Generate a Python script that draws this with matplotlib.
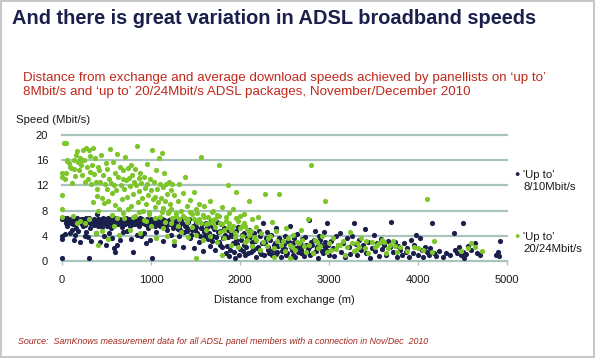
import matplotlib
matplotlib.use("Agg")
import matplotlib.pyplot as plt
import numpy as np

plt.rcParams['font.family'] = ['Liberation Sans', 'DejaVu Sans']

# ---- data: (distance m, speed Mbit/s) ----
dark_points = [
    (0,6.6),(0,3.5),(0,3.9),(0,0.5),(20,6.8),(40,6.5),(60,6.9),(80,6.2),(100,6.7),(110,5.0),(130,6.4),(150,4.2),
    (170,6.8),(190,6.3),(200,3.0),(60,5.5),(90,4.5),(120,5.8),(160,5.3),(180,4.8),(30,4.3),(140,3.4),
    (210,6.6),(230,5.9),(250,6.2),(260,4.0),(280,6.5),(300,0.5),(300,6.9),(320,5.2),(330,3.2),(350,6.0),
    (370,6.4),(380,4.5),(390,7.5),(240,5.5),(270,4.6),(310,6.0),(360,5.7),(290,3.8),
    (400,6.6),(410,5.6),(420,6.2),(430,3.0),(440,6.4),(450,5.4),(460,6.8),(470,4.0),(480,6.5),(490,2.6),
    (500,6.1),(510,5.5),(520,6.9),(530,4.5),(540,6.0),(550,5.2),(560,3.7),(570,6.6),(580,2.1),(590,6.2),
    (600,1.4),(610,6.4),(620,2.5),(630,5.9),(640,6.7),(650,3.3),(660,6.0),(670,5.4),(680,4.6),(690,6.6),
    (700,6.3),(710,5.8),(720,6.9),(730,4.8),(740,6.1),(750,6.5),(760,5.6),(770,6.0),(780,3.5),(790,6.4),
    (800,1.5),(810,6.2),(820,5.9),(830,6.7),(840,4.1),(850,6.3),(860,6.0),(870,5.5),(880,6.8),(890,3.9),
    (900,6.2),(910,6.5),(920,4.4),(930,5.8),(940,2.8),(950,6.6),(960,6.0),(970,5.3),(980,6.4),(990,3.4),
    (1000,6.1),(1010,0.5),(1020,5.8),(1040,6.4),(1060,4.6),(1080,6.2),(1100,5.5),(1120,6.7),(1140,3.2),
    (1160,6.0),(1180,5.0),(1200,6.5),(1220,4.2),(1240,5.8),(1260,2.6),(1280,6.3),(1300,5.1),(1320,4.0),
    (1340,6.6),(1360,2.2),(1380,5.5),(1400,4.8),(1420,6.2),(1440,3.6),(1460,5.0),(1480,2.0),(1500,6.0),
    (1520,4.4),(1540,3.0),(1560,5.3),(1580,1.6),(1600,4.6),(1620,6.1),(1640,3.5),(1660,2.4),(1680,5.6),
    (1700,4.0),(1720,1.7),(1740,6.2),(1760,3.0),(1780,4.8),(1800,2.2),(1820,5.2),(1840,1.2),(1860,3.8),
    (1880,0.8),(1900,4.5),(1920,2.8),(1940,0.5),(1960,3.4),(1980,5.4),(2000,1.9),(2020,4.2),(2040,2.6),
    (2060,0.9),(2080,3.6),(2100,5.0),(2120,1.4),(2140,3.0),(2160,4.4),(2180,0.6),(2200,2.3),(2220,3.9),
    (2240,1.1),(2260,6.0),(2280,2.8),(2300,4.6),(2320,1.7),(2340,3.3),(2360,0.9),(2380,2.5),(2400,5.2),
    (2420,1.5),(2440,3.7),(2460,0.6),(2480,2.1),(2500,4.0),(2520,1.0),(2540,3.1),(2560,5.6),(2580,1.8),
    (2600,2.9),(2620,0.7),(2640,4.3),(2660,2.4),(2680,1.3),(2700,3.5),(2720,0.8),(2740,2.6),(2760,1.9),
    (2780,6.5),(2800,3.0),(2820,1.2),(2840,4.8),(2860,2.0),(2880,0.5),(2900,3.4),(2920,1.6),(2940,4.6),
    (2960,2.3),(2980,6.1),(3000,1.0),(3020,3.2),(3040,2.0),(3060,0.8),(3080,3.9),(3100,2.6),(3120,4.5),
    (3140,1.4),(3160,2.9),(3180,0.6),(3200,3.6),(3220,2.2),(3240,1.1),(3260,4.0),(3280,6.1),(3300,2.7),
    (3320,0.9),(3340,3.3),(3360,1.8),(3380,2.5),(3400,5.1),(3420,1.2),(3440,3.0),(3460,0.5),(3480,2.1),
    (3500,4.2),(3520,1.6),(3540,2.8),(3560,0.8),(3580,3.5),(3600,1.9),(3620,2.6),(3640,1.0),(3660,3.1),
    (3680,2.2),(3700,6.2),(3720,1.4),(3740,3.0),(3760,0.7),(3780,2.4),(3800,1.7),(3820,0.9),(3840,2.9),
    (3860,1.5),(3880,2.0),(3900,0.6),(3920,3.3),(3940,1.2),(3960,2.6),(3980,4.1),(4000,1.0),(4020,3.6),
    (4040,1.8),(4060,0.7),(4080,2.3),(4100,1.4),(4120,0.9),(4140,2.1),(4160,6.1),(4180,1.2),(4200,0.8),
    (4240,1.6),(4280,0.6),(4320,1.3),(4360,1.0),(4400,4.4),(4420,1.7),(4440,1.2),(4460,2.2),(4480,0.9),
    (4500,6.0),(4510,1.5),(4520,0.5),(4540,1.1),(4560,2.4),(4600,1.8),(4640,2.9),(4660,1.3),(4700,1.0),
    (4880,1.0),(4900,1.4),(4920,3.1),(4910,0.8),
    (50,6.0),(75,6.4),(105,6.1),(125,6.8),(145,5.9),(165,6.5),(215,6.1),(235,6.7),(255,5.7),(275,6.9),
    (295,6.3),(335,6.1),(355,6.6),(375,5.9),(395,6.3),(415,6.7),(435,5.9),(455,6.2),(475,6.0),(495,6.6),
    (515,6.3),(535,6.5),(555,6.1),(575,5.8),(595,6.8),(615,6.0),(635,6.3),(655,6.5),(675,6.2),(695,5.9),
    (715,6.4),(735,6.0),(755,6.7),(775,6.3),(795,5.9),(815,6.6),(835,6.1),(855,6.5),(875,6.0),(895,6.7),
    (915,6.0),(935,6.3),(955,5.7),(975,6.2),(995,6.6),(1030,6.0),(1050,5.6),(1070,6.6),(1090,5.9),(1110,6.3),
    (1130,5.7),(1150,6.5),(1170,5.4),(1190,6.1),(1210,5.8),(1230,6.6),(1250,5.2),(1270,5.9),(1290,6.4),
    (1310,5.6),(1330,5.0),(1350,6.0),(1370,4.6),(1390,5.8),(1410,5.2),(1430,6.7),(1450,4.2),(1470,5.6),
    (1490,4.9),(1510,5.4),(1530,6.4),(1550,4.0),(1570,5.8),(1590,4.9),(1610,3.9),(1630,5.4),(1650,4.4),
    (1670,6.3),(1690,3.2),(1710,5.1),(1730,3.8),(1750,4.6),(1770,2.6),(1790,5.8),(1810,3.6),(1830,4.2),
    (1850,2.4),(1870,5.0),(1890,1.8),(1910,3.9),(1930,1.4),(1950,4.8),(1970,2.7),(1990,1.0),(2010,3.3),
    (2030,1.6),(2050,4.4),(2070,2.2),(2090,1.2),(2110,3.8),(2130,2.4),(2150,1.8),(2170,3.2),(2190,2.0),
    (2210,4.8),(2230,1.5),(2250,2.9),(2270,1.0),(2290,3.6),(2310,2.2),(2330,1.3),(2350,4.2),(2370,1.7),
    (2390,2.9),(2410,1.1),(2430,2.4),(2450,3.4),(2470,1.6),(2490,2.7),(2510,1.9),(2530,1.3),(2550,3.0),
    (2570,2.3),(2590,1.0),(2610,3.6),(2630,2.0),(2650,1.4),(2670,2.8),(2690,1.7),(2710,2.4),(2730,3.8),
    (2750,1.5),(2770,2.2),(2790,1.0),(2810,2.6),(2830,3.3),(2850,1.6),(2870,2.3),(2890,3.9),(2910,2.6),
    (2930,1.3),(2950,3.0),(2970,1.7),(2990,2.5),
]

green_points = [
    (0,10.5),(0,8.3),(0,7.0),(0,14.0),(0,13.4),(20,18.8),(40,18.8),(30,13.0),(50,14.0),(60,15.8),(80,15.6),
    (90,15.0),(100,14.8),(110,12.4),(130,16.0),(140,14.6),(150,13.5),(160,16.8),(170,17.4),(180,15.7),
    (190,14.4),(200,16.3),(200,6.3),(120,7.2),(170,6.0),(60,16.0),
    (210,15.2),(220,16.1),(230,13.6),(240,17.6),(250,16.0),(260,12.6),(270,18.0),(280,15.0),(290,13.0),
    (300,17.6),(310,14.2),(320,16.7),(330,12.2),(340,15.3),(350,18.0),(360,13.8),(370,16.4),(380,12.6),
    (390,10.3),(400,15.0),(400,8.0),(300,6.6),(380,4.5),(410,2.5),(350,9.3),(260,6.0),(390,11.5),
    (420,14.4),(430,12.6),(440,16.9),(450,10.0),(460,13.6),(470,9.2),(480,12.2),(490,15.6),(500,11.4),
    (510,14.6),(520,9.6),(530,13.0),(540,17.8),(550,12.4),(560,10.8),(570,15.7),(580,12.0),(590,8.9),
    (600,14.0),(610,11.2),(620,17.0),(630,13.4),(640,8.2),(650,15.0),(660,12.0),(670,9.9),(680,14.4),
    (690,13.0),(700,11.4),(710,16.5),(720,12.8),(730,10.2),(740,14.7),(750,13.1),(760,11.9),(770,8.7),
    (780,15.2),(790,13.6),(800,10.7),(810,12.6),(820,14.6),(830,12.0),(840,18.2),(850,9.4),(860,13.2),
    (870,11.1),(880,14.0),(890,12.4),(900,10.0),(910,8.0),(920,13.4),(930,11.6),(940,9.1),(950,15.4),
    (960,12.3),(970,10.5),(980,7.8),(990,13.0),(1000,11.2),(1010,17.6),(1020,9.8),(1030,12.6),(1040,10.2),
    (1050,8.6),(1060,14.4),(1070,11.5),(1080,9.3),(1090,16.3),(1100,12.2),(1110,10.0),(1120,17.2),
    (1130,8.4),(1140,11.8),(1150,14.0),(1160,9.5),(1170,12.3),(1180,10.7),(1190,7.6),(1200,12.5),
    (1210,9.0),(1220,11.3),(1230,8.2),(1240,12.2),(1260,10.4),(1280,7.2),(1300,9.6),(1320,12.2),
    (1340,8.0),(1360,10.8),(1380,13.4),(1400,8.8),(1420,6.6),(1440,9.7),(1460,7.5),(1480,11.0),(1500,8.3),
    (1520,6.2),(1540,9.0),(1560,16.5),(1580,7.3),(1600,8.8),(1620,5.8),(1640,7.0),(1660,9.6),(1680,6.5),
    (1700,8.0),(1720,5.4),(1740,7.3),(1760,15.2),(1780,6.0),(1800,8.6),(1820,4.9),(1840,7.0),(1860,12.0),
    (1880,6.1),(1900,5.0),(1920,8.3),(1940,4.5),(1960,11.0),(1980,6.4),(2000,5.2),(2020,4.0),(2040,7.5),
    (2060,5.6),(2080,3.4),(2100,9.6),(2120,4.8),(2140,6.6),(2160,3.8),(2180,5.4),(2200,7.0),(2240,4.4),
    (2280,10.6),(2320,3.6),(2360,6.2),(2400,4.7),(2440,10.6),(2480,3.2),(2520,5.3),(2560,2.6),(2600,4.1),
    (2640,3.0),(2680,5.0),(2720,2.4),(2760,6.6),(2800,15.2),(2840,3.4),(2880,2.0),(2920,3.9),(2960,9.6),
    (2980,1.4),(3000,2.8),(3040,3.6),(3080,1.9),(3120,2.6),(3160,3.1),(3200,2.2),(3240,4.6),(3280,1.6),
    (3320,2.8),(3360,3.6),(3400,2.0),(3440,1.3),(3480,3.0),(3520,2.2),(3560,2.8),(3600,3.4),(3640,1.2),
    (3680,2.6),(3720,3.1),(3760,1.4),(3800,2.2),(3880,1.6),(3960,2.3),(4000,2.0),(4060,1.8),(4100,9.8),
    (4160,1.5),(4180,3.2),(4480,1.6),(4560,2.0),(4600,2.8),(4640,2.2),(4720,1.6),(1500,0.5),(1800,0.9),
    (2380,0.7),(2560,0.4),
    (450,4.8),(520,3.5),(580,5.5),(640,4.2),(700,6.8),(760,5.0),(820,7.2),(880,4.4),(940,6.4),(1000,5.6),
    (1060,3.6),(1100,7.0),(1140,5.2),(1180,4.0),(1220,6.0),(1260,3.2),(1300,5.6),(1340,4.6),(1380,6.8),
    (1420,3.8),(1460,5.4),(1500,4.2),(1540,6.6),(1580,3.4),(1620,5.0),(1660,4.0),(1700,6.0),(1740,3.0),
    (1780,4.6),(1820,3.6),(1860,5.4),(1900,2.6),(1940,3.8),(1980,2.2),(2020,5.6),(2060,3.0),(2100,4.2),
    (2140,2.4),(2180,3.4),(2220,1.8),(2260,3.0),(2300,2.4),(2340,4.0),(2380,2.0),(2420,3.2),(2460,2.6),
    (2500,1.6),(2540,3.6),(2580,2.2),(2620,1.8),(2660,2.8),(2700,3.4),(2740,1.5),(2780,2.6),(2820,1.2),
    (2860,3.0),(2900,2.4),(3020,1.8),(3100,2.5),(3180,1.0),(3260,2.9),(3300,1.8),(3340,2.3),(3420,3.1),
    (3540,2.6),(3620,3.0),(3660,2.0),(3740,2.4),(560,7.3),(620,6.9),(680,7.6),(740,8.2),(800,7.0),
    (860,7.8),(920,6.5),(980,7.4),(1040,6.8),(1120,7.8),(1160,6.2),(1200,8.0),(1240,6.8),(1280,7.6),
    (1320,6.6),(1360,7.2),(1400,6.2),(1440,7.8),(1480,6.6),(1520,7.6),(1560,6.0),(1600,7.0),(1640,6.0),
    (1680,7.8),(1720,6.6),(1760,7.2),(1800,5.8),(1840,6.4),(1880,7.6),(1920,5.6),(1960,6.8),(2000,7.2),
    (2040,6.0),(2080,5.0),
]

series_labels = ["'Up to'\n8/10Mbit/s", "'Up to'\n20/24Mbit/s"]
x_ticks = [0, 1000, 2000, 3000, 4000, 5000]
y_ticks = [0, 4, 8, 12, 16, 20]

dark_x, dark_y = np.array(dark_points).T
green_x, green_y = np.array(green_points).T

DARK = '#1b1f4c'
GREEN = '#7cc52a'
GRID = '#a9c3bd'

fig = plt.figure(figsize=(5.95, 3.58), dpi=100)
fig.patch.set_facecolor('white')
fig.patch.set_edgecolor('#c8c8c8')
fig.patch.set_linewidth(1.5)

ax = fig.add_axes([62/595, 1-261/358, 445/595, 126/358])
ax.set_xlim(0, 5000)
ax.set_ylim(0, 20)
for s in ax.spines.values():
    s.set_visible(False)
for yv in y_ticks:
    ax.axhline(yv, color=GRID, lw=1.6, zorder=0, clip_on=False)

ax.scatter(dark_x, dark_y, s=14, color=DARK, linewidths=0, zorder=3, clip_on=False)
ax.scatter(green_x, green_y, s=14, color=GREEN, linewidths=0, zorder=3, clip_on=False)

ax.set_xticks(x_ticks)
ax.set_xticklabels([str(v) for v in x_ticks], fontsize=8, color='#1a1a1a')
ax.set_yticks(y_ticks)
ax.set_yticklabels([str(v) for v in y_ticks], fontsize=8, color='#1a1a1a')
ax.tick_params(axis='y', length=0, pad=10)
ax.tick_params(axis='x', length=3, width=1, color=GRID, pad=7)
ax.set_xlabel('Distance from exchange (m)', fontsize=8, color='#1a1a1a', labelpad=7)

fig.text(16/595, 1-120/358, 'Speed (Mbit/s)', fontsize=8.2, color='#1a1a1a', va='center', ha='left')

fig.text(12/595, 1-19/358, 'And there is great variation in ADSL broadband speeds',
         fontsize=14.4, fontweight='bold', color='#1a1f4b', va='center', ha='left')
fig.text(23/595, 1-85/358,
         'Distance from exchange and average download speeds achieved by panellists on \u2018up to\u2019\n'
         '8Mbit/s and \u2018up to\u2019 20/24Mbit/s ADSL packages, November/December 2010',
         fontsize=9.6, color='#c0281c', va='center', ha='left', linespacing=1.27)
fig.text(18/595, 1-342/358,
         'Source:  SamKnows measurement data for all ADSL panel members with a connection in Nov/Dec  2010',
         fontsize=6.4, style='italic', color='#a3261c', va='center', ha='left')

# legend
for lab, col, yp in [(series_labels[0], DARK, 181), (series_labels[1], GREEN, 243)]:
    fig.text(517/595, 1-(yp-6)/358, '\u25cf', fontsize=6.5, color=col, va='center', ha='center')
    fig.text(523/595, 1-yp/358, lab, fontsize=8.2, color='#1a1a1a', va='center', ha='left', linespacing=1.2)

fig.savefig('out.png', dpi=100)
